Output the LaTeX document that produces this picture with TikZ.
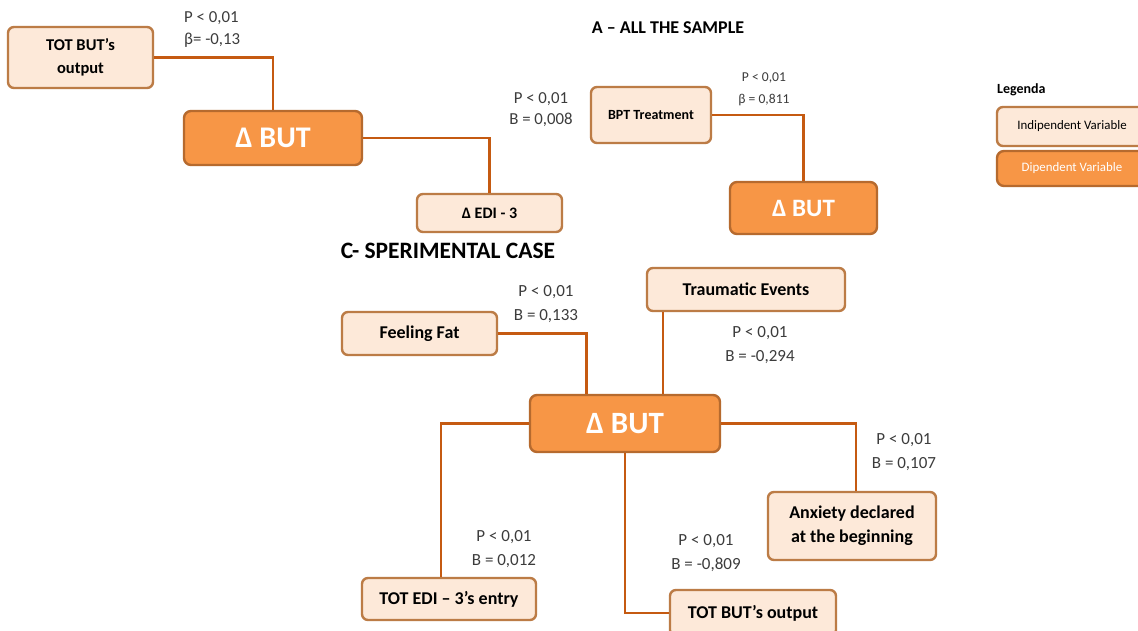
\documentclass[tikz,border=0pt]{standalone}
\usepackage{fontspec}
\setmainfont{Carlito}
\usetikzlibrary{positioning, calc}
\definecolor{indepFill}{RGB}{253,233,217}
\definecolor{indepLine}{RGB}{188,124,70}
\definecolor{depFill}{RGB}{247,150,70}
\definecolor{depLine}{RGB}{182,106,46}
\definecolor{linkColor}{RGB}{197,90,17}
\definecolor{labelGray}{RGB}{60,60,60}

\tikzset{
  indep/.style={draw=indepLine, fill=indepFill, line width=2.4pt, rounded corners=6pt,
    font=\bfseries\fontsize{18}{24}\selectfont, align=center, inner sep=0pt},
  dep/.style={draw=depLine, fill=depFill, line width=2.4pt, rounded corners=7pt,
    text=white, font=\bfseries\fontsize{30}{34}\selectfont, inner sep=0pt},
  link/.style={draw=linkColor, line width=2.4pt},
  stat/.style={text=labelGray, font=\fontsize{17}{23.5}\selectfont, align=center, inner sep=0pt},
  heading/.style={font=\bfseries\fontsize{18}{22}\selectfont, inner sep=0pt},
}

\begin{document}
\begin{tikzpicture}[x=1pt, y=-1pt]
\useasboundingbox (0,0) rectangle (1138,630);
\fill[white] (0,0) rectangle (1138,630);
\clip (0,0) rectangle (1138,630);

% A - all the sample
\node[heading] (titleA) at (668,28) {A -- ALL THE SAMPLE};
\node[indep, minimum width=145pt, minimum height=61pt, font=\bfseries\fontsize{16.5}{23}\selectfont] (totbutA) at (80.5,57.5) {TOT BUT’s\\output};
\node[dep, minimum width=178pt, minimum height=54pt] (dbutA) at (273,138) {Δ BUT};
\node[indep, minimum width=145pt, minimum height=38pt, font=\bfseries\fontsize{16}{19}\selectfont] (ediA) at (489.5,213) {Δ EDI - 3};
\draw[link] (totbutA.east) -| (dbutA.north);
\draw[link] (dbutA.east) -| (ediA.north);
\node[stat, align=left, anchor=west, font=\fontsize{16.8}{22}\selectfont] (statA1) at (184,29) {P < 0,01\\β= -0,13};
\node[stat, font=\fontsize{16.8}{21}\selectfont] (statA2) at (541,110) {P < 0,01\\B = 0,008};

\node[indep, minimum width=120pt, minimum height=56pt, font=\bfseries\fontsize{14}{17}\selectfont] (bpt) at (651,115) {BPT Treatment};
\node[dep, minimum width=147pt, minimum height=52pt, font=\bfseries\fontsize{25}{29}\selectfont] (dbutB) at (803.5,208) {Δ BUT};
\draw[link] (bpt.east) -| (dbutB.north);
\node[stat, font=\fontsize{13.6}{22}\selectfont] (statB) at (764,89) {P < 0,01\\β = 0,811};

% Legenda
\node[heading, anchor=west, font=\bfseries\fontsize{14}{17}\selectfont] (legTitle) at (997,90) {Legenda};
\node[indep, minimum width=150pt, minimum height=39pt, font=\fontsize{12.9}{15}\selectfont] (legIndep) at (1072,126.5) {Indipendent Variable};
\node[dep, minimum width=150pt, minimum height=35pt, font=\fontsize{12.9}{15}\selectfont] (legDep) at (1072,168.5) {Dipendent Variable};

% C - sperimental case
\node[heading, font=\bfseries\fontsize{23.5}{27}\selectfont] (titleC) at (448,251) {C- SPERIMENTAL CASE};
\node[dep, minimum width=190pt, minimum height=57pt, font=\bfseries\fontsize{31}{35}\selectfont] (dbutC) at (625,423.5) {Δ BUT};
\node[indep, minimum width=155pt, minimum height=43pt] (fat) at (419.5,333.5) {Feeling Fat};
\node[indep, minimum width=198pt, minimum height=43pt] (trauma) at (746,289.5) {Traumatic Events};
\node[indep, minimum width=174pt, minimum height=42pt] (ediC) at (449,599) {TOT EDI – 3’s entry};
\node[indep, minimum width=166pt, minimum height=46pt] (butout) at (753,613) {TOT BUT’s output};
\node[indep, minimum width=168pt, minimum height=68pt] (anx) at (852,526) {Anxiety declared\\at the beginning};

\coordinate (fatIn) at ($(dbutC.north west)!0.3!(dbutC.north east)$);
\coordinate (traumaOut) at ($(trauma.south west)+(17,0)$);
\draw[link] (fat.east) -| (fatIn);
\draw[link] (traumaOut) -- (traumaOut |- dbutC.north);
\draw[link] (dbutC.west) -| ($(ediC.north)+(-8,0)$);
\draw[link] (dbutC.south) |- (butout.west);
\draw[link] (dbutC.east) -| ($(anx.north)+(4,0)$);

\node[stat] (statC1) at (546,304) {P < 0,01\\B = 0,133};
\node[stat] (statC2) at (760,345) {P < 0,01\\B = -0,294};
\node[stat] (statC3) at (504,549) {P < 0,01\\B = 0,012};
\node[stat] (statC4) at (706,553) {P < 0,01\\B = -0,809};
\node[stat] (statC5) at (904,452) {P < 0,01\\B = 0,107};
\end{tikzpicture}
\end{document}
